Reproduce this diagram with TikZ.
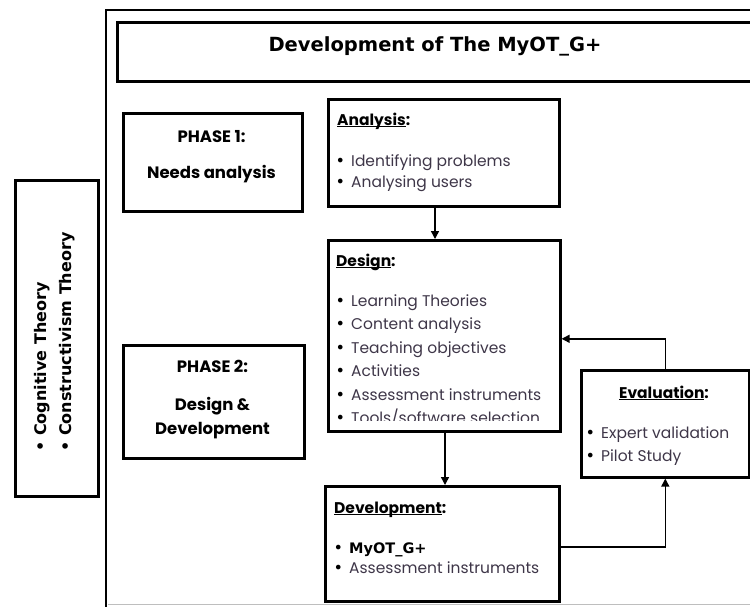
\documentclass[tikz,border=0pt]{standalone}
\usepackage{fontspec}
\usetikzlibrary{arrows.meta}
\setmainfont{Poppins}
\newfontfamily\headfont{DejaVu Sans}
\definecolor{listtext}{RGB}{62,54,72}
\definecolor{rulegray}{RGB}{190,190,190}
\newcommand\itm{\makebox[13pt][l]{\textcolor{black}{\headfont\fontsize{16}{16}\selectfont\hspace{-2.5pt}•}}}
\newcommand\hd[1]{\underline{\smash{#1}}}

% multi-line nodes below are placed by the baseline of their last line
\tikzset{
  box/.style={draw=black, line width=2.6pt, anchor=north west, inner sep=0pt},
  arr/.style={line width=1.4pt, -{Triangle[length=8pt,width=8pt]}},
  listtxt/.style={anchor=base west, align=left, inner sep=0pt, text=listtext,
    font=\fontsize{15.5}{23.5}\selectfont},
  headtxt/.style={anchor=base west, inner sep=0pt, font=\fontsize{15.5}{18}\selectfont\bfseries},
  phasetxt/.style={anchor=base, align=center, inner sep=0pt, font=\fontsize{16.5}{24}\selectfont\bfseries}
}

\begin{document}
\begin{tikzpicture}[x=1pt,y=-1pt]
\useasboundingbox (0,0) rectangle (750,606);
\clip (0,0) rectangle (750,606);

% outer frame and title bar
\draw[line width=2.6pt] (106,620) -- (106,10) -- (770,10);
\draw[rulegray, line width=1pt] (108,604.5) -- (750,604.5);
\node[box, minimum width=638pt, minimum height=59pt] (titlebox) at (116,21) {};
\node[inner sep=0pt, font=\headfont\fontsize{19.5}{22}\selectfont\bfseries] (title) at (435,46) {Development of The MyOT\_G+};

% theories
\node[box, minimum width=83pt, minimum height=316pt] (theory) at (14,179) {};
\node[rotate=90, anchor=west, align=left, inner sep=0pt,
      font=\headfont\fontsize{16}{25}\selectfont\bfseries] (theorytxt) at (54.5,452)
      {\makebox[16pt][l]{•}Cognitive Theory\\\makebox[16pt][l]{•}Constructivism Theory};

% phases
\node[box, minimum width=179pt, minimum height=98pt] (phase1) at (122,112) {};
\node[phasetxt] (phase1txt) at (211.5,178) {PHASE 1:\\[12pt]Needs analysis};
\node[box, minimum width=181pt, minimum height=113pt] (phase2) at (122,344) {};
\node[phasetxt] (phase2txt) at (212.5,434) {PHASE 2:\\[14pt]Design \&\\Development};

% analysis
\node[box, minimum width=231pt, minimum height=107pt] (analysis) at (327,98) {};
\node[headtxt] (analysishd) at (337,125) {\hd{Analysis}:};
\node[listtxt, font=\fontsize{15.5}{21.5}\selectfont] (analysislist) at (338,187.5) {\itm Identifying problems\\\itm Analysing users};

% design (last item is cut off by the frame)
\node[box, minimum width=232pt, minimum height=191pt] (design) at (327,239) {};
\node[headtxt] (designhd) at (336,266) {\hd{Design}:};
\begin{scope}
  \clip (330,242) rectangle (556,420);
  \node[listtxt] (designlist) at (338,423.5) {\itm Learning Theories\\\itm Content analysis\\\itm Teaching objectives\\\itm Activities\\\itm Assessment instruments\\\itm Tools/software selection};
\end{scope}

% evaluation
\node[box, minimum width=168pt, minimum height=107pt] (evaluation) at (580,369) {};
\node[headtxt, anchor=base] (evaluationhd) at (664,398) {\hd{Evaluation}:};
\node[listtxt, font=\fontsize{15.5}{23}\selectfont] (evaluationlist) at (588,461) {\itm Expert validation\\\itm Pilot Study};

% development
\node[box, minimum width=234pt, minimum height=115pt] (development) at (324,485) {};
\node[headtxt] (developmenthd) at (334,513) {\hd{Development}:};
\node[listtxt, font=\fontsize{15.5}{20}\selectfont] (developmentlist) at (336,573)
  {\itm\textcolor{black}{\headfont\fontsize{14.5}{20}\selectfont\bfseries MyOT\_G+}\\\itm Assessment instruments};

% connectors
\draw[arr] ([xshift=108pt]analysis.south west) -- ([xshift=108pt]design.north west);
\draw[arr] ([xshift=118pt]design.south west) -- ([xshift=121pt]development.north west);
\draw[arr] ([yshift=-3pt]development.east) -| (evaluation.south);
\draw[arr] (evaluation.north) |- ([yshift=-3pt]design.east);
\end{tikzpicture}
\end{document}
